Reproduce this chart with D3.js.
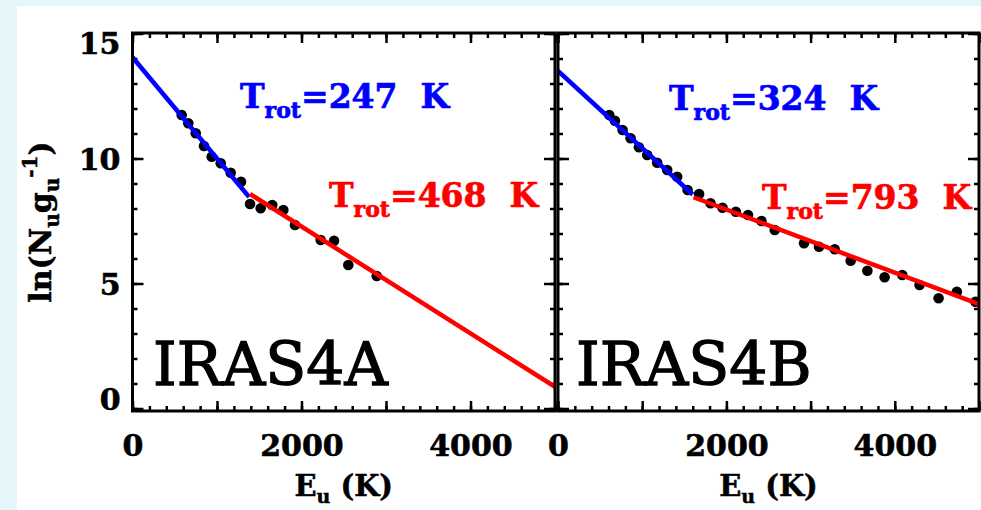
<!DOCTYPE html>
<html><head><meta charset="utf-8">
<script src="https://cdn.jsdelivr.net/npm/d3@7"></script>
<style>
html,body{margin:0;padding:0;background:#e6f7fc;}
svg{display:block;}
text{font-family:"DejaVu Serif",serif;}
</style></head>
<body><svg id="c" width="981" height="510"></svg>
<script>
// ---- data ----
const panels = ["IRAS4A", "IRAS4B"];
const xTickLabels = [0, 2000, 4000];
const yTickLabels = [0, 5, 10, 15];

const euA = [582, 660, 748, 846, 937, 1044, 1162, 1284, 1391, 1517, 1654, 1785, 1923, 2227, 2385, 2554, 2890];
const lnA = [11.74, 11.41, 11.01, 10.50, 10.07, 9.81, 9.43, 9.07, 8.18, 8.01, 8.14, 7.94, 7.34, 6.74, 6.71, 5.74, 5.30];

const euB = [609, 676, 767, 862, 961, 1059, 1178, 1297, 1415, 1539, 1676, 1811, 1954, 2112, 2257, 2416, 2574, 2922, 3100, 3286, 3476, 3674, 3879, 4089, 4294, 4520, 4737, 4958];
const lnB = [11.74, 11.51, 11.14, 10.81, 10.45, 10.14, 9.83, 9.54, 9.27, 8.74, 8.58, 8.21, 8.03, 7.87, 7.74, 7.50, 7.14, 6.61, 6.47, 6.37, 5.91, 5.51, 5.25, 5.34, 4.94, 4.41, 4.67, 4.27];

// fit lines: endpoints [E, ln]
const fitA_cold = [[0, 14.05], [1380, 8.46]];
const fitA_warm = [[1391, 8.58], [5000, 0.87]];
const fitB_cold = [[0, 13.5], [1600, 8.56]];
const fitB_warm = [[1610, 8.45], [5000, 4.17]];

const trotA = ["247", "468"];
const trotB = ["324", "793"];

// ---- layout ----
const svg = d3.select("#c");
svg.append("rect").attr("x", 17).attr("y", 6).attr("width", 981 - 17).attr("height", 510 - 6).attr("fill", "#ffffff");

const yTop = 33, yBot = 411;
const boxes = [{x0: 132.5, x1: 555}, {x0: 558, x1: 979}];
const y = d3.scaleLinear().domain([-0.1, 15.02]).range([yBot, yTop]);

const data = [
  {eu: euA, ln: lnA, cold: fitA_cold, warm: fitA_warm, trot: trotA, name: panels[0],
   tc: [240, 108], tw: [329, 207], nm: [153, 385]},
  {eu: euB, ln: lnB, cold: fitB_cold, warm: fitB_warm, trot: trotB, name: panels[1],
   tc: [669, 110], tw: [762, 209], nm: [576, 385]}
];

const tickStroke = 2.5;
function styleAxis(g) {
  g.select(".domain").remove();
  g.selectAll("line").attr("stroke", "#000").attr("stroke-width", tickStroke);
}
function heavy(sel, w) {
  return sel.attr("stroke", "currentColor").attr("stroke-width", w).attr("paint-order", "stroke");
}

data.forEach((p, i) => {
  const b = boxes[i];
  const x = d3.scaleLinear().domain([0, 5000]).range([b.x0, b.x1]);
  const g = svg.append("g");
  const clipId = "clip" + i;
  svg.append("clipPath").attr("id", clipId).append("rect")
    .attr("x", b.x0).attr("y", yTop).attr("width", b.x1 - b.x0).attr("height", yBot - yTop);

  const minorX = d3.range(0, 5001, 200), majorX = d3.range(0, 5001, 1000);
  const minorY = d3.range(0, 16, 1), majorY = d3.range(0, 16, 5);

  [[d3.axisBottom, yBot], [d3.axisTop, yTop]].forEach(([ax, yy]) => {
    g.append("g").attr("transform", `translate(0,${yy})`)
      .call(ax(x).tickValues(minorX).tickSize(-5).tickFormat("")).call(styleAxis);
    g.append("g").attr("transform", `translate(0,${yy})`)
      .call(ax(x).tickValues(majorX).tickSize(-10).tickFormat("")).call(styleAxis);
  });
  [[d3.axisLeft, b.x0], [d3.axisRight, b.x1]].forEach(([ax, xx]) => {
    g.append("g").attr("transform", `translate(${xx},0)`)
      .call(ax(y).tickValues(minorY).tickSize(-5).tickFormat("")).call(styleAxis);
    g.append("g").attr("transform", `translate(${xx},0)`)
      .call(ax(y).tickValues(majorY).tickSize(-11).tickFormat("")).call(styleAxis);
  });

  const xl = g.append("g").attr("transform", `translate(0,${yBot})`)
    .call(d3.axisBottom(x).tickValues(xTickLabels).tickSize(0).tickPadding(24).tickFormat(d3.format("d")));
  xl.select(".domain").remove();
  xl.selectAll("text").attr("font-family", "DejaVu Serif").attr("font-weight", "bold")
    .attr("font-size", 30).attr("fill", "#000").attr("color", "#000").call(heavy, 0.6);

  const xt = g.append("text").attr("x", (b.x0 + b.x1) / 2).attr("y", 496)
    .attr("text-anchor", "middle").attr("font-weight", "bold").attr("font-size", 29).attr("fill", "#000")
    .attr("color", "#000").call(heavy, 0.5);
  xt.append("tspan").text("E");
  xt.append("tspan").attr("font-size", 19).attr("dy", 7).text("u");
  xt.append("tspan").attr("dy", -7).text("\u00A0(K)");

  if (i === 0) {
    const yl = g.append("g").attr("transform", `translate(${b.x0},0)`)
      .call(d3.axisLeft(y).tickValues(yTickLabels).tickSize(0).tickPadding(12).tickFormat(d3.format("d")));
    yl.select(".domain").remove();
    yl.selectAll("text").attr("font-family", "DejaVu Serif").attr("font-weight", "bold")
      .attr("font-size", 30).attr("fill", "#000").attr("color", "#000").call(heavy, 0.6)
      .attr("dy", d => d === 15 ? "0.65em" : d === 0 ? "0.02em" : "0.36em");

    const yt = svg.append("text").attr("transform", `translate(51,${(yTop + yBot) / 2}) rotate(-90)`)
      .attr("text-anchor", "middle").attr("font-weight", "bold").attr("font-size", 30).attr("fill", "#000")
      .attr("color", "#000").call(heavy, 0.5);
    yt.append("tspan").text("ln(N");
    yt.append("tspan").attr("font-size", 20).attr("dy", 8).text("u");
    yt.append("tspan").attr("dy", -8).text("g");
    yt.append("tspan").attr("font-size", 20).attr("dy", 8).text("u");
    yt.append("tspan").attr("font-size", 20).attr("dy", -22).text("-1");
    yt.append("tspan").attr("dy", 14).text(")");
  }

  const pts = p.eu.map((e, k) => [e, p.ln[k]]);
  g.append("g").attr("clip-path", `url(#${clipId})`).selectAll("circle").data(pts).join("circle")
    .attr("cx", d => x(d[0])).attr("cy", d => y(d[1])).attr("r", 5.3).attr("fill", "#000");

  const line = d3.line().x(d => x(d[0])).y(d => y(d[1]));
  const lg = g.append("g").attr("clip-path", `url(#${clipId})`);
  lg.append("path").attr("d", line(p.cold)).attr("stroke", "#0000ff").attr("stroke-width", 4.5).attr("fill", "none");
  lg.append("path").attr("d", line(p.warm)).attr("stroke", "#ff0000").attr("stroke-width", 4.5).attr("fill", "none");

  g.append("rect").attr("x", b.x0).attr("y", yTop).attr("width", b.x1 - b.x0).attr("height", yBot - yTop)
    .attr("fill", "none").attr("stroke", "#000").attr("stroke-width", 3);

  [[p.tc, p.trot[0], "#0000ff"], [p.tw, p.trot[1], "#ff0000"]].forEach(([pos, val, col]) => {
    const t = g.append("text").attr("x", pos[0]).attr("y", pos[1]).attr("fill", col).attr("color", col)
      .attr("font-weight", "bold").attr("font-size", 33).call(heavy, 0.7);
    t.append("tspan").text("T");
    t.append("tspan").attr("font-size", 22).attr("dy", 10).text("rot");
    t.append("tspan").attr("dy", -10).text("=" + val + "\u00A0\u00A0K");
  });

  g.append("text").attr("x", p.nm[0]).attr("y", p.nm[1]).attr("font-size", 60).attr("fill", "#000")
    .attr("color", "#000").call(heavy, 1.3).text(p.name);
});
</script></body></html>
